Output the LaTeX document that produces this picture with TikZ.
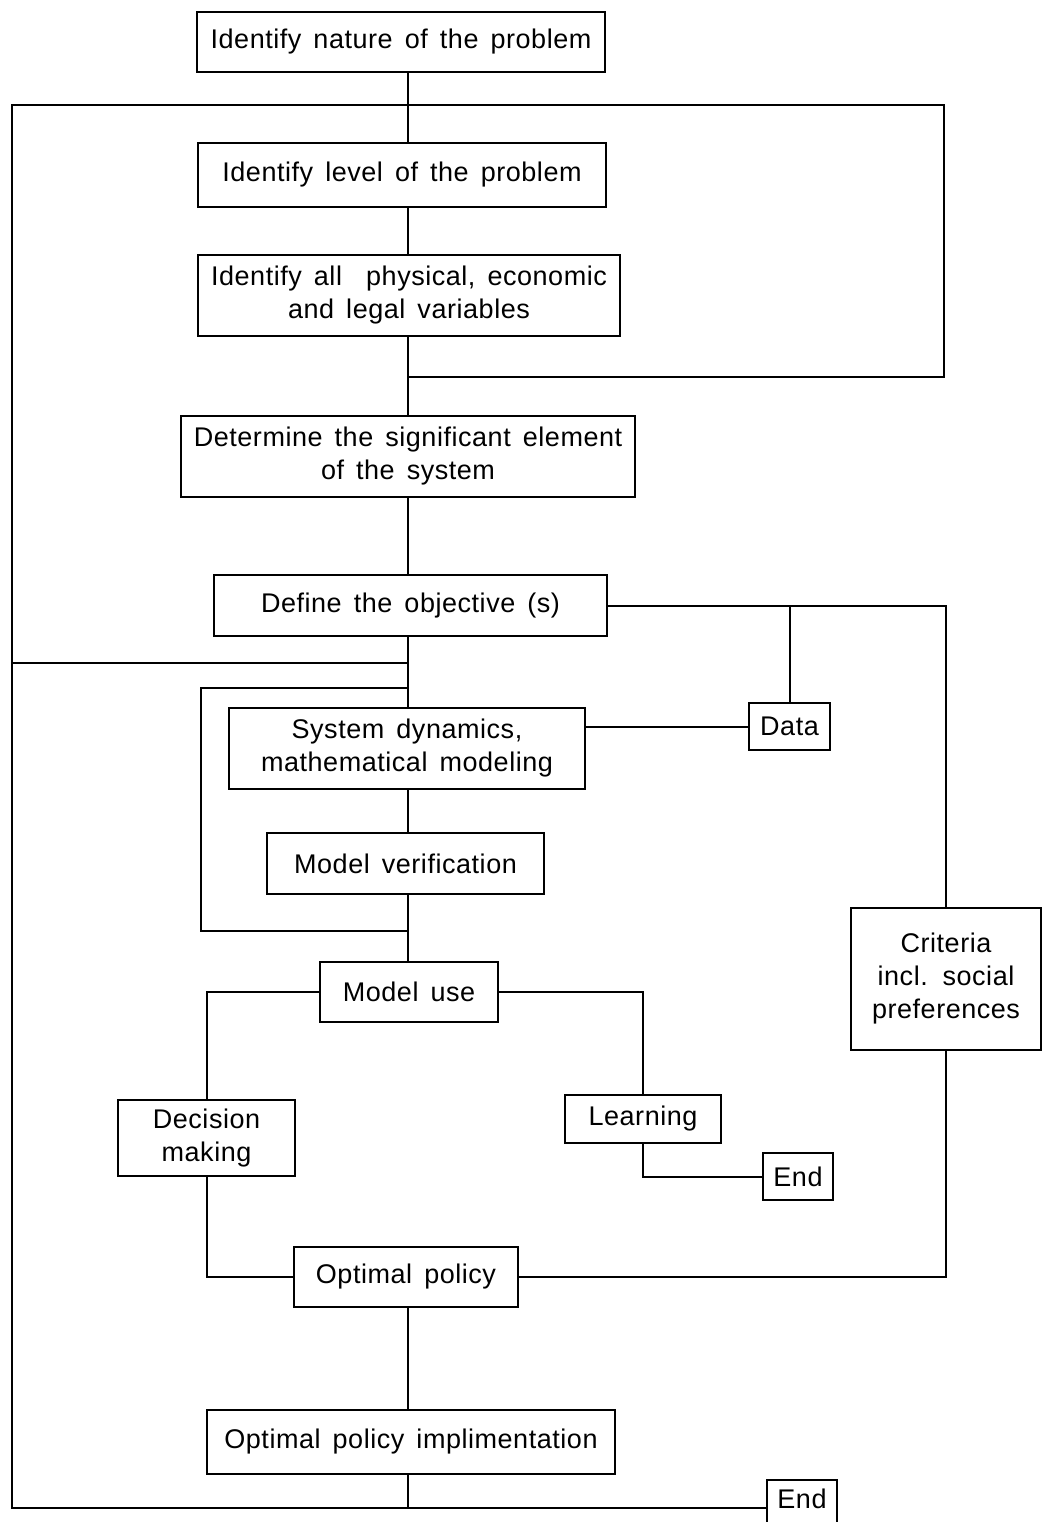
\documentclass[tikz,border=0pt]{standalone}
\usepackage{fontspec}
\setmainfont{Liberation Sans}[LetterSpace=2, WordSpace=1.5]
\tikzset{
  box/.style={draw, line width=2.2pt, inner sep=0pt, align=center,
    font=\fontsize{27pt}{33pt}\selectfont},
  wire/.style={line width=2pt},
}
\begin{document}
\begin{tikzpicture}[x=1pt,y=-1pt]
\useasboundingbox (0,0) rectangle (1046,1522);
\clip (0,0) rectangle (1046,1522);
\fill[white] (0,0) rectangle (1046,1522);
\coordinate (sp) at (408,0);
% boxes
\node[box, minimum width=408pt, minimum height=60pt] (nat) at (401,42) {Identify nature of the problem};
\node[box, minimum width=408pt, minimum height=64pt] (lev) at (402,175) {Identify level of the problem};
\node[box, minimum width=422pt, minimum height=81pt] (vars) at (409,295.5) {Identify all\ \ physical, economic\\and legal variables};
\node[box, minimum width=454pt, minimum height=81pt] (det) at (408,456.5) {Determine the significant element\\of the system};
\node[box, minimum width=393pt, minimum height=61pt] (obj) at (410.5,605.5) {Define the objective (s)};
\node[box, minimum width=356pt, minimum height=81pt] (sysd) at (407,748.5) {System dynamics,\\mathematical modeling};
\node[box, minimum width=277pt, minimum height=61pt] (ver) at (405.5,863.5) {Model verification};
\node[box, minimum width=178pt, minimum height=60pt] (use) at (409,992) {Model use};
\node[box, minimum width=177pt, minimum height=76pt] (dec) at (206.5,1138) {Decision\\making};
\node[box, minimum width=156pt, minimum height=48pt] (lrn) at (643,1119) {Learning};
\node[box, minimum width=70pt, minimum height=47pt] (end1) at (798,1176.5) {End};
\node[box, minimum width=224pt, minimum height=60pt] (opt) at (406,1277) {Optimal policy};
\node[box, minimum width=408pt, minimum height=64pt] (impl) at (411,1442) {Optimal policy implimentation};
\node[box, minimum width=81pt, minimum height=47pt] (data) at (789.5,726.5) {Data};
\node[box, minimum width=190pt, minimum height=142pt] (crit) at (946,979) {Criteria\\incl. social\\preferences};
\node[box, minimum width=70pt, text height=28pt, text depth=45pt, anchor=north] (end2) at (802,1479) {End};
% coordinates for loops
\coordinate (j1) at (408,377);
\coordinate (rt) at (944,105);
\coordinate (lt) at (12,105);
\coordinate (lb) at (12,1508);
\coordinate (j2) at (408,663);
\coordinate (j3) at (408,688);
\coordinate (j4) at (408,931);
\coordinate (il) at (201,0);
% connectors
\draw[wire] (nat.south -| sp) -- (lev.north -| sp);
\draw[wire] (lev.south -| sp) -- (vars.north -| sp);
\draw[wire] (vars.south -| sp) -- (det.north -| sp);
\draw[wire] (j1) -| (rt) -- (lt) -- (lb) -- (lb -| end2.west);
\draw[wire] (det.south -| sp) -- (obj.north -| sp);
\draw[wire] (obj.south -| sp) -- (sysd.north -| sp);
\draw[wire] (j2) -- (j2 -| lt);
\draw[wire] (j3) -- (j3 -| il) -- (j4 -| il) -- (j4);
\draw[wire] (sysd.south -| sp) -- (ver.north -| sp);
\draw[wire] (ver.south -| sp) -- (use.north -| sp);
\draw[wire] (obj.east) -| (crit.north);
\draw[wire] (data.north) -- (data.north |- obj.east);
\draw[wire] (data.west) -- (data.west -| sysd.east);
\draw[wire] (use.west) -| (dec.north);
\draw[wire] (use.east) -| (lrn.north);
\draw[wire] (lrn.south) |- (end1.west);
\draw[wire] (dec.south) |- (opt.west);
\draw[wire] (opt.east) -| (crit.south);
\draw[wire] (opt.south -| sp) -- (impl.north -| sp);
\draw[wire] (impl.south -| sp) -- (sp |- lb);
\end{tikzpicture}
\end{document}
